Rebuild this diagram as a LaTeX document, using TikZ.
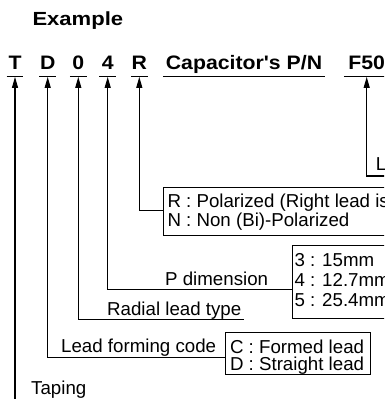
\documentclass[tikz,border=0pt]{standalone}
\usepackage{fontspec}
\setmainfont{Liberation Sans}
\usetikzlibrary{arrows.meta}
\newcommand\widebf[1]{\scalebox{1.09}[1]{#1}}
\begin{document}
\begin{tikzpicture}[x=1pt,y=-1pt,
  lbl/.style={inner sep=0pt, font=\fontsize{18.7}{19}\selectfont},
  code/.style={inner sep=0pt, text depth=7pt, anchor=base, minimum width=16.5pt,
    font=\bfseries\fontsize{19.5}{20}\selectfont},
  uline/.style={line width=1.4pt},
  conn/.style={line width=1.1pt, -{Triangle[width=6pt,length=11pt]}, shorten >=0.7pt},
  frame/.style={draw, line width=1pt, inner sep=0pt, anchor=north west}]
\useasboundingbox (0,0) rectangle (384,399);
\clip (0,0) rectangle (384,399);
\fill[white] (0,0) rectangle (384,399);

% title
\node[lbl, anchor=base west, font=\bfseries\fontsize{19}{20}\selectfont] (ex) at (32.3,25.7) {\scalebox{1.16}[1]{Example}};

% code row
\node[code] (cT) at (15,69) {\widebf{T}};
\node[code] (cD) at (47.7,69) {\widebf{D}};
\node[code] (c0) at (78.3,69) {\widebf{0}};
\node[code] (c4) at (107.7,69) {\widebf{4}};
\node[code] (cR) at (139.3,69) {\widebf{R}};
\node[code, minimum width=162pt] (cPN) at (244,69) {\widebf{Capacitor\textquotesingle s P/N}};
\node[code, minimum width=45.4pt] (cF) at (366.7,69) {\widebf{F50}};
\foreach \n in {cT,cD,c0,c4,cR,cPN,cF}
  \draw[uline] (\n.south west) -- (\n.south east);

% boxes
\node[frame, minimum width=300pt, minimum height=47.7pt] (rbox) at (162.7,187.3) {};
\node[frame, minimum width=150pt, minimum height=73pt] (pbox) at (291.7,245) {};
\node[frame, minimum width=144.7pt, minimum height=42.6pt] (cbox) at (225.3,331.7) {};

% texts
\node[lbl, anchor=base west] (lL) at (375.7,170.7) {L};
\node[lbl, anchor=base west] (r1) at (167.3,207) {R : Polarized (Right lead is};
\node[lbl, anchor=base west] (r2) at (167.3,226) {N : Non (Bi)-Polarized};
\node[lbl, anchor=base west] (p1) at (294.3,266.5) {3 : 15mm};
\node[lbl, anchor=base west] (p2) at (294.3,286.5) {4 : 12.7mm};
\node[lbl, anchor=base west] (p3) at (294.3,306.5) {5 : 25.4mm};
\node[lbl, anchor=base east] (pdim) at (268.3,285.5) {P dimension};
\node[lbl, anchor=base west, text depth=3.8pt] (radial) at (107,315.5) {Radial lead type};
\node[lbl, anchor=base west] (lfc) at (61,352) {Lead forming code};
\node[lbl, anchor=base east] (c1) at (364.3,353) {C : Formed lead};
\node[lbl, anchor=base east] (c2) at (364.3,370.5) {D : Straight lead};
\node[lbl, anchor=base west] (tap) at (31,394.5) {Taping};

% connectors
\coordinate (tEnd) at (15,405);
\coordinate (lEnd) at (395,176);
\draw[conn] (tEnd) -- (cT.south);
\draw[conn] ([yshift=-3.7pt]cbox.west) -| (cD.south);
\draw[conn] ([xshift=2pt]radial.south east) -| (c0.south);
\draw[conn] ([yshift=-7.8pt]pbox.west) -| (c4.south);
\draw[conn] ([yshift=1.2pt]rbox.west) -| (cR.south);
\draw[conn] (lEnd) -| (cF.south);
\end{tikzpicture}
\end{document}
